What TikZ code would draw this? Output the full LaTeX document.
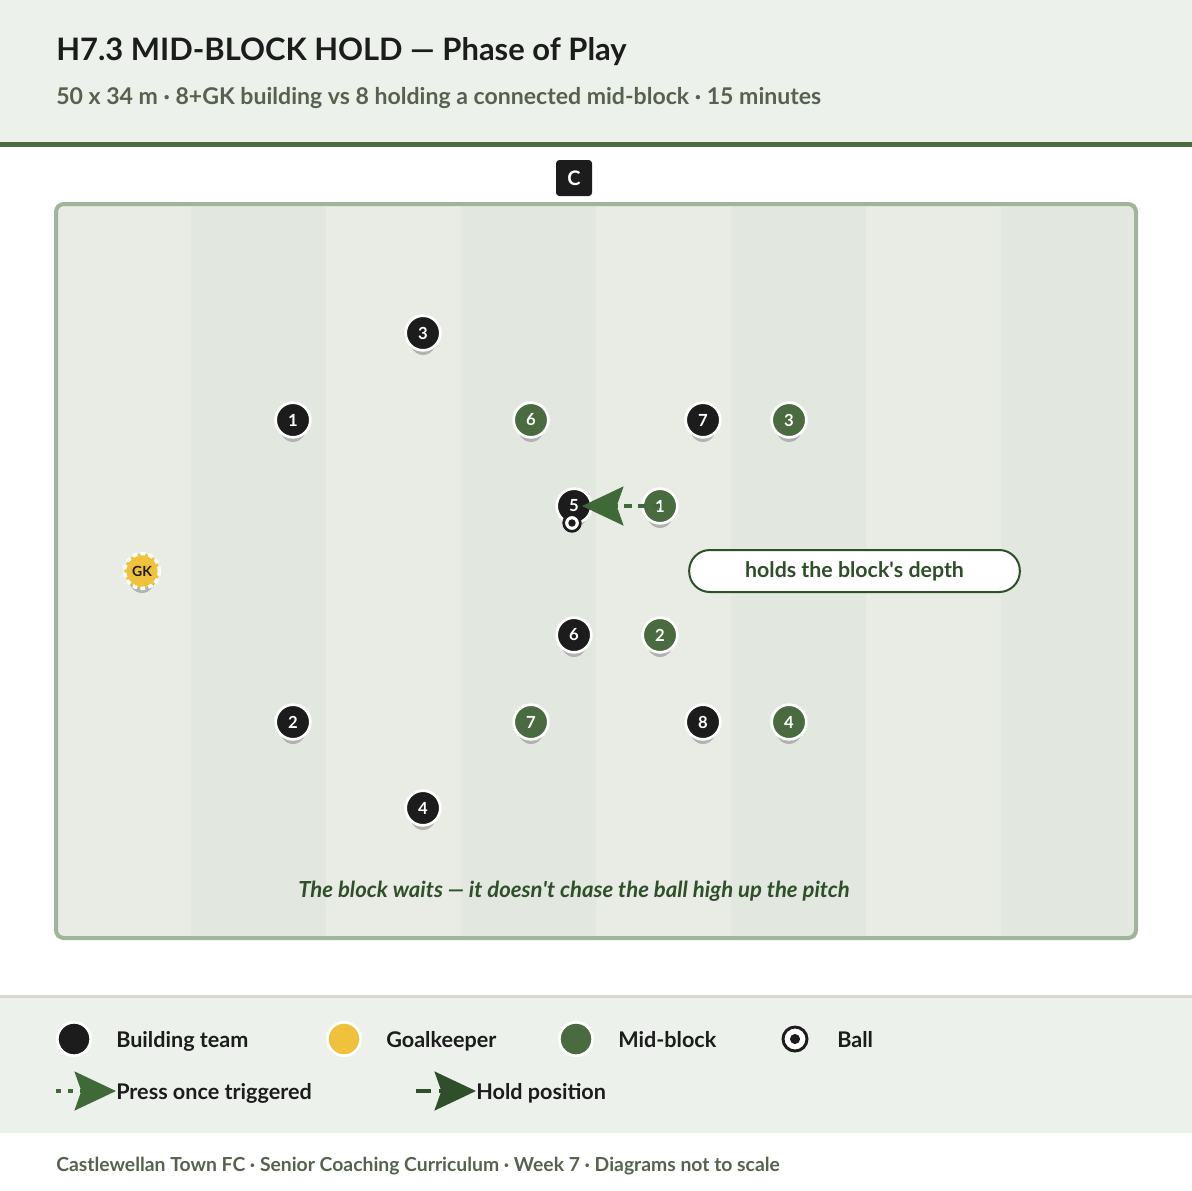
\documentclass[tikz,border=0pt]{standalone}
\usepackage{fontspec}
\setmainfont{Lato}
\usetikzlibrary{arrows.meta}
\definecolor{panelbg}{HTML}{EDF1EC}
\definecolor{barcolor}{HTML}{4A6B3F}
\definecolor{stripea}{HTML}{E9ECE5}
\definecolor{stripeb}{HTML}{E2E8DF}
\definecolor{pitchline}{HTML}{9FB49A}
\definecolor{buildcolor}{HTML}{1C1C1C}
\definecolor{blockcolor}{HTML}{4A6B3F}
\definecolor{gkcolor}{HTML}{F0C23B}
\definecolor{darkgreen}{HTML}{2F4F2A}
\definecolor{pressgreen}{HTML}{3F6A38}
\definecolor{subtext}{HTML}{56624F}
\definecolor{legendline}{HTML}{D8D8CE}
\colorlet{shadowcolor}{black!30}
\tikzstyle{player} = [
    circle,
    draw=white,
    line width=2pt,
    minimum size=26pt,
    inner sep=0pt,
    text=white,
    font=\bfseries\fontsize{12.5}{12.5}\selectfont
    ]
\tikzstyle{builder} = [player, fill=buildcolor]
\tikzstyle{blocker} = [player, fill=blockcolor]
\tikzstyle{keeper} = [player, fill=gkcolor, text=buildcolor, line width=2.6pt,
    dash pattern=on 3.5pt off 2.5pt, font=\bfseries\fontsize{10.5}{10.5}\selectfont]
\tikzstyle{ball} = [circle, draw=buildcolor, fill=white, line width=2pt,
    minimum size=12.5pt, inner sep=0pt]
\tikzstyle{press} = [draw=pressgreen, line width=3pt, dash pattern=on 6pt off 4.5pt,
    -{Stealth[length=31pt, width=29pt, inset=5pt]}]
\tikzstyle{hold} = [draw=darkgreen, line width=3pt, dash pattern=on 11pt off 6pt,
    -{Stealth[length=31pt, width=29pt, inset=5pt]}]
\tikzstyle{legendtext} = [anchor=base west, text=buildcolor,
    font=\bfseries\fontsize{16.2}{16.2}\selectfont, inner sep=0pt]
\newcommand{\playershadow}[2]{% player shadow
\fill[shadowcolor] (#1,#2+5) ellipse (10.5pt and 12.75pt);}

\begin{document}
\begin{tikzpicture}[x=0.75pt, y=-0.75pt]
\useasboundingbox (0,0) rectangle (1192,1190);
% header
\fill[panelbg] (0,0) rectangle (1192,142);
\fill[barcolor] (0,142) rectangle (1192,147);
\node[anchor=base west, inner sep=0pt, text=buildcolor,
    font=\bfseries\fontsize{23.2}{23.2}\selectfont] (title) at (56,60)
    {H7.3 MID-BLOCK HOLD — Phase of Play};
\node[anchor=base west, inner sep=0pt, text=subtext,
    font=\bfseries\fontsize{17.3}{17.3}\selectfont] (subtitle) at (56,104)
    {50 x 34 m · 8+GK building vs 8 holding a connected mid-block · 15 minutes};
% pitch
\foreach \i in {0,...,7} {
    \pgfmathsetmacro{\xa}{56+135*\i}
    \ifodd\i
        \fill[stripeb] (\xa,204) rectangle (\xa+135,938);
    \else
        \fill[stripea] (\xa,204) rectangle (\xa+135,938);
    \fi
}
\draw[pitchline, line width=3pt, rounded corners=6pt] (56,204) rectangle (1136,938);
\node[fill=buildcolor, text=white, rounded corners=2.5pt, minimum size=27pt,
    inner sep=0pt, font=\bfseries\fontsize{15}{15}\selectfont] (coach) at (574,178) {C};
% building team
\foreach \n/\px/\py in {3/423/333, 1/293/420, 7/703/420, 5/574/506,
    6/574/635, 2/293/722, 8/703/722, 4/423/808} {
    \playershadow{\px}{\py}
    \node[builder] (b\n) at (\px,\py) {\n};
}
% mid-block
\foreach \n/\px/\py in {6/531/420, 3/789/420, 1/660/506,
    2/660/635, 7/531/722, 4/789/722} {
    \playershadow{\px}{\py}
    \node[blocker] (m\n) at (\px,\py) {\n};
}
\playershadow{142}{571}
\node[keeper] (gk) at (142,571) {GK};
\node[ball] (ball) at (572,523) {};
\fill[buildcolor] (ball.center) circle (2.8pt);
\draw[press, shorten >=6pt] (m1.center) -- (b5.center);
\node[draw=darkgreen, line width=1.5pt, fill=white, rounded corners=15.5pt,
    minimum width=248pt, minimum height=31.5pt, text=darkgreen,
    font=\bfseries\fontsize{16}{16}\selectfont] (note) at (854.5,571)
    {holds the block\textquotesingle s depth};
\node[text=darkgreen, font=\bfseries\itshape\fontsize{16.6}{16.6}\selectfont]
    (waits) at (574,891) {The block waits — it doesn\textquotesingle t chase the ball high up the pitch};
% legend
\fill[panelbg] (0,995) rectangle (1192,1133);
\fill[legendline] (0,995) rectangle (1192,998);
\node[builder, minimum size=25pt] (keyb) at (74,1039) {};
\node[legendtext] (keybt) at (116,1047) {Building team};
\node[player, fill=gkcolor, minimum size=25pt] (keyg) at (344,1039) {};
\node[legendtext] (keygt) at (386,1047) {Goalkeeper};
\node[blocker, minimum size=25pt] (keym) at (576,1039) {};
\node[legendtext] (keymt) at (618,1047) {Mid-block};
\node[ball, minimum size=18pt, line width=2.2pt] (keyball) at (795,1039) {};
\fill[buildcolor] (keyball.center) circle (3.8pt);
\node[legendtext] (keyballt) at (837,1047) {Ball};
\coordinate (pressa) at (56,1091);
\coordinate (pressb) at (116,1091);
\draw[press, dash pattern=on 4pt off 5pt] (pressa) -- (pressb);
\node[legendtext] (presst) at (116,1099) {Press once triggered};
\coordinate (holda) at (416,1091);
\coordinate (holdb) at (476,1091);
\draw[hold] (holda) -- (holdb);
\node[legendtext] (holdt) at (476,1099) {Hold position};
% footer
\node[anchor=base west, inner sep=0pt, text=subtext,
    font=\bfseries\fontsize{14.5}{14.5}\selectfont] (footer) at (56,1171)
    {Castlewellan Town FC · Senior Coaching Curriculum · Week 7 · Diagrams not to scale};
\end{tikzpicture}
\end{document}
